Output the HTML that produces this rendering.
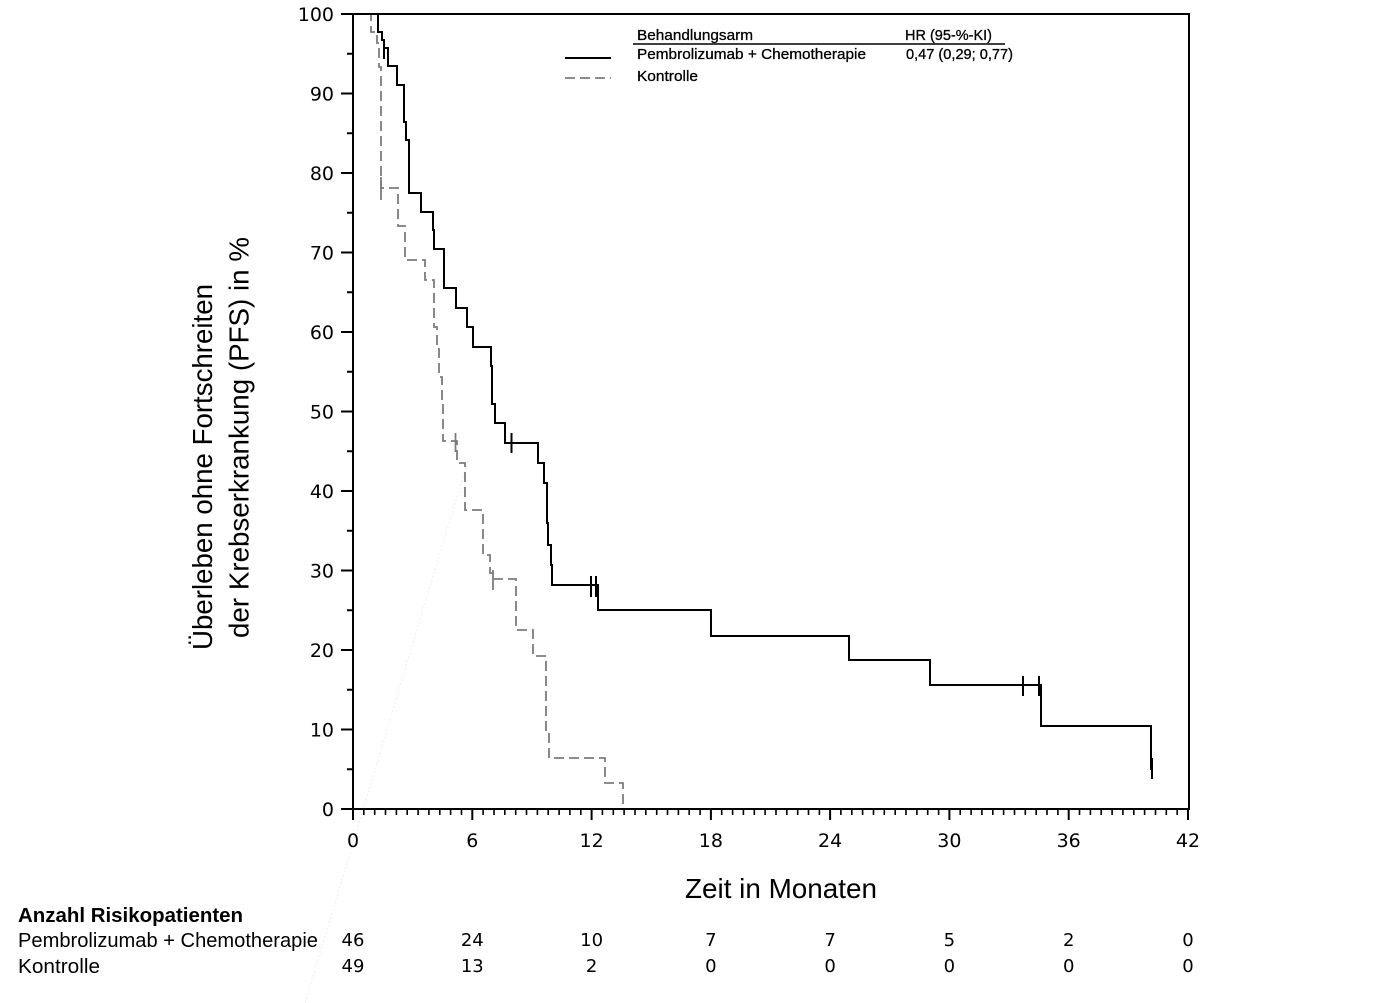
<!DOCTYPE html>
<html>
<head>
<meta charset="utf-8">
<style>
  html,body{margin:0;padding:0;background:#fff;}
  svg{display:block;}
  .tick{font-family:"DejaVu Sans","Liberation Sans",sans-serif;font-size:19px;fill:#000;}
  .num{font-family:"DejaVu Sans","Liberation Sans",sans-serif;font-size:18px;fill:#000;}
  .lab{font-family:"Liberation Sans",Arial,sans-serif;fill:#000;}
</style>
</head>
<body>
<svg width="1386" height="1003" viewBox="0 0 1386 1003" xmlns="http://www.w3.org/2000/svg">
  <rect width="1386" height="1003" fill="#fff"/>

  <!-- faint diagonal artifact -->
  <line x1="305" y1="1003" x2="468" y2="460" stroke="#ececec" stroke-width="1" stroke-dasharray="2 2"/>

  <!-- frame -->
  <rect x="353" y="14" width="836" height="795" fill="none" stroke="#000" stroke-width="2"/>

  <!-- y ticks -->
  <g stroke="#000" stroke-width="2">
    <line x1="341" y1="14" x2="353" y2="14"/>
    <line x1="341" y1="93.5" x2="353" y2="93.5"/>
    <line x1="341" y1="173" x2="353" y2="173"/>
    <line x1="341" y1="252.5" x2="353" y2="252.5"/>
    <line x1="341" y1="332" x2="353" y2="332"/>
    <line x1="341" y1="411.5" x2="353" y2="411.5"/>
    <line x1="341" y1="491" x2="353" y2="491"/>
    <line x1="341" y1="570.5" x2="353" y2="570.5"/>
    <line x1="341" y1="650" x2="353" y2="650"/>
    <line x1="341" y1="729.5" x2="353" y2="729.5"/>
    <line x1="341" y1="809" x2="353" y2="809"/>
    <line x1="347" y1="53.75" x2="353" y2="53.75"/>
    <line x1="347" y1="133.25" x2="353" y2="133.25"/>
    <line x1="347" y1="212.75" x2="353" y2="212.75"/>
    <line x1="347" y1="292.25" x2="353" y2="292.25"/>
    <line x1="347" y1="371.75" x2="353" y2="371.75"/>
    <line x1="347" y1="451.25" x2="353" y2="451.25"/>
    <line x1="347" y1="530.75" x2="353" y2="530.75"/>
    <line x1="347" y1="610.25" x2="353" y2="610.25"/>
    <line x1="347" y1="689.75" x2="353" y2="689.75"/>
    <line x1="347" y1="769.25" x2="353" y2="769.25"/>
  </g>

  <!-- y tick labels -->
  <g class="tick" text-anchor="end">
    <text x="334" y="21">100</text>
    <text x="334" y="100.5">90</text>
    <text x="334" y="180">80</text>
    <text x="334" y="259.5">70</text>
    <text x="334" y="339">60</text>
    <text x="334" y="418.5">50</text>
    <text x="334" y="498">40</text>
    <text x="334" y="577.5">30</text>
    <text x="334" y="657">20</text>
    <text x="334" y="736.5">10</text>
    <text x="334" y="816">0</text>
  </g>

  <!-- x tick labels -->
  <g class="tick" text-anchor="middle">
    <text x="353" y="847">0</text>
    <text x="472.3" y="847">6</text>
    <text x="591.6" y="847">12</text>
    <text x="710.9" y="847">18</text>
    <text x="830.1" y="847">24</text>
    <text x="949.4" y="847">30</text>
    <text x="1068.7" y="847">36</text>
    <text x="1188" y="847">42</text>
  </g>

  <!-- axis titles -->
  <text class="lab" x="685" y="898" font-size="28" textLength="192" lengthAdjust="spacingAndGlyphs">Zeit in Monaten</text>
  <text class="lab" transform="translate(212,650) rotate(-90)" font-size="27.5" textLength="366" lengthAdjust="spacingAndGlyphs">Überleben ohne Fortschreiten</text>
  <text class="lab" transform="translate(248.5,638) rotate(-90)" font-size="27.5" textLength="401" lengthAdjust="spacingAndGlyphs">der Krebserkrankung (PFS) in %</text>

  <!-- control curve (dashed) -->
  <path d="M353,14 H371 V32 H377 V43 H379 V67 H381 V188 H398 V226 H405 V260 H425 V280 H434 V327 H437 V347 H439 V377 H442 V400 H443 V441 H457 V463 H465 V510 H483 V555 H490 V573 H493 V579 H516 V630 H533 V656 H546 V732 H549 V758 H605 V783 H623 V809"
        fill="none" stroke="#7c7c7c" stroke-width="1.8" stroke-dasharray="10 5"/>
  <g stroke="#7c7c7c" stroke-width="1.8">
    <line x1="381" y1="177" x2="381" y2="200"/>
    <line x1="455.5" y1="433" x2="455.5" y2="452"/>
    <line x1="493" y1="570" x2="493" y2="590"/>
  </g>

  <!-- pembro curve (solid) -->
  <path d="M353,14 H378 V32 H382 V40 H384 V48 H388 V66 H397 V85 H404 V122 H406 V140 H409 V193 H421 V212 H433 V230 H434 V249 H444 V288 H456 V308 H467 V327 H473 V347 H491 V366 H492 V404 H495 V423 H505 V443 H538 V463 H544 V483 H547 V523 H548 V545 H551 V565 H552 V585 H598 V610 H711 V636 H849 V660 H930 V685 H1041 V726 H1151 V770"
        fill="none" stroke="#000" stroke-width="2"/>
  <g stroke="#000" stroke-width="2">
    <line x1="384" y1="40" x2="384" y2="59"/>
    <line x1="511.5" y1="433" x2="511.5" y2="453"/>
    <line x1="591" y1="576" x2="591" y2="597"/>
    <line x1="596" y1="576" x2="596" y2="597"/>
    <line x1="1023" y1="676" x2="1023" y2="696"/>
    <line x1="1039" y1="676" x2="1039" y2="696"/>
    <line x1="1152" y1="758" x2="1152" y2="779"/>
  </g>

  <!-- legend -->
  <g class="lab" font-size="15" stroke="#000" stroke-width="0.3">
    <text x="637" y="40" textLength="116" lengthAdjust="spacingAndGlyphs">Behandlungsarm</text>
    <text x="905" y="40" textLength="87" lengthAdjust="spacingAndGlyphs">HR (95-%-KI)</text>
    <text x="637" y="59" textLength="229" lengthAdjust="spacingAndGlyphs">Pembrolizumab + Chemotherapie</text>
    <text x="906" y="59" textLength="107" lengthAdjust="spacingAndGlyphs">0,47 (0,29; 0,77)</text>
    <text x="637" y="81" textLength="61" lengthAdjust="spacingAndGlyphs">Kontrolle</text>
  </g>
  <line x1="633" y1="44" x2="1005" y2="44" stroke="#000" stroke-width="1.6"/>
  <line x1="565" y1="58" x2="611" y2="58" stroke="#000" stroke-width="2"/>
  <line x1="565" y1="78" x2="611" y2="78" stroke="#7c7c7c" stroke-width="1.8" stroke-dasharray="10 5"/>

  <!-- risk table -->
  <text class="lab" x="18" y="922" font-size="20" font-weight="bold" textLength="225" lengthAdjust="spacingAndGlyphs">Anzahl Risikopatienten</text>
  <text class="lab" x="18" y="947" font-size="20" textLength="300" lengthAdjust="spacingAndGlyphs">Pembrolizumab + Chemotherapie</text>
  <text class="lab" x="18" y="973" font-size="20" textLength="82" lengthAdjust="spacingAndGlyphs">Kontrolle</text>
  <g class="num" text-anchor="middle">
    <text x="353" y="946">46</text>
    <text x="472.3" y="946">24</text>
    <text x="591.6" y="946">10</text>
    <text x="710.9" y="946">7</text>
    <text x="830.1" y="946">7</text>
    <text x="949.4" y="946">5</text>
    <text x="1068.7" y="946">2</text>
    <text x="1188" y="946">0</text>
    <text x="353" y="972">49</text>
    <text x="472.3" y="972">13</text>
    <text x="591.6" y="972">2</text>
    <text x="710.9" y="972">0</text>
    <text x="830.1" y="972">0</text>
    <text x="949.4" y="972">0</text>
    <text x="1068.7" y="972">0</text>
    <text x="1188" y="972">0</text>
  </g>

  <!-- x ticks -->
  <g stroke="#000" stroke-width="2">
    <line x1="353" y1="809" x2="353" y2="820"/>
    <line x1="472.3" y1="809" x2="472.3" y2="820"/>
    <line x1="591.6" y1="809" x2="591.6" y2="820"/>
    <line x1="710.9" y1="809" x2="710.9" y2="820"/>
    <line x1="830.1" y1="809" x2="830.1" y2="820"/>
    <line x1="949.4" y1="809" x2="949.4" y2="820"/>
    <line x1="1068.7" y1="809" x2="1068.7" y2="820"/>
    <line x1="1188" y1="809" x2="1188" y2="820"/>
  </g>
  <g stroke="#000" stroke-width="1.6">
    <path d="M363.8,809v6M374.7,809v6M385.5,809v6M396.4,809v6M407.2,809v6M418.1,809v6M428.9,809v6M439.8,809v6M450.6,809v6M461.5,809v6
             M483.1,809v6M494.0,809v6M504.8,809v6M515.7,809v6M526.5,809v6M537.4,809v6M548.2,809v6M559.1,809v6M569.9,809v6M580.8,809v6
             M602.4,809v6M613.3,809v6M624.1,809v6M635.0,809v6M645.8,809v6M656.7,809v6M667.5,809v6M678.4,809v6M689.2,809v6M700.1,809v6
             M721.7,809v6M732.6,809v6M743.4,809v6M754.3,809v6M765.1,809v6M776.0,809v6M786.8,809v6M797.7,809v6M808.5,809v6M819.4,809v6
             M840.9,809v6M851.8,809v6M862.6,809v6M873.5,809v6M884.3,809v6M895.2,809v6M906.0,809v6M916.9,809v6M927.7,809v6M938.6,809v6
             M960.2,809v6M971.1,809v6M981.9,809v6M992.8,809v6M1003.6,809v6M1014.5,809v6M1025.3,809v6M1036.2,809v6M1047.0,809v6M1057.9,809v6
             M1079.5,809v6M1090.4,809v6M1101.2,809v6M1112.1,809v6M1122.9,809v6M1133.8,809v6M1144.6,809v6M1155.5,809v6M1166.3,809v6M1177.2,809v6"/>
  </g>
</svg>
</body>
</html>
